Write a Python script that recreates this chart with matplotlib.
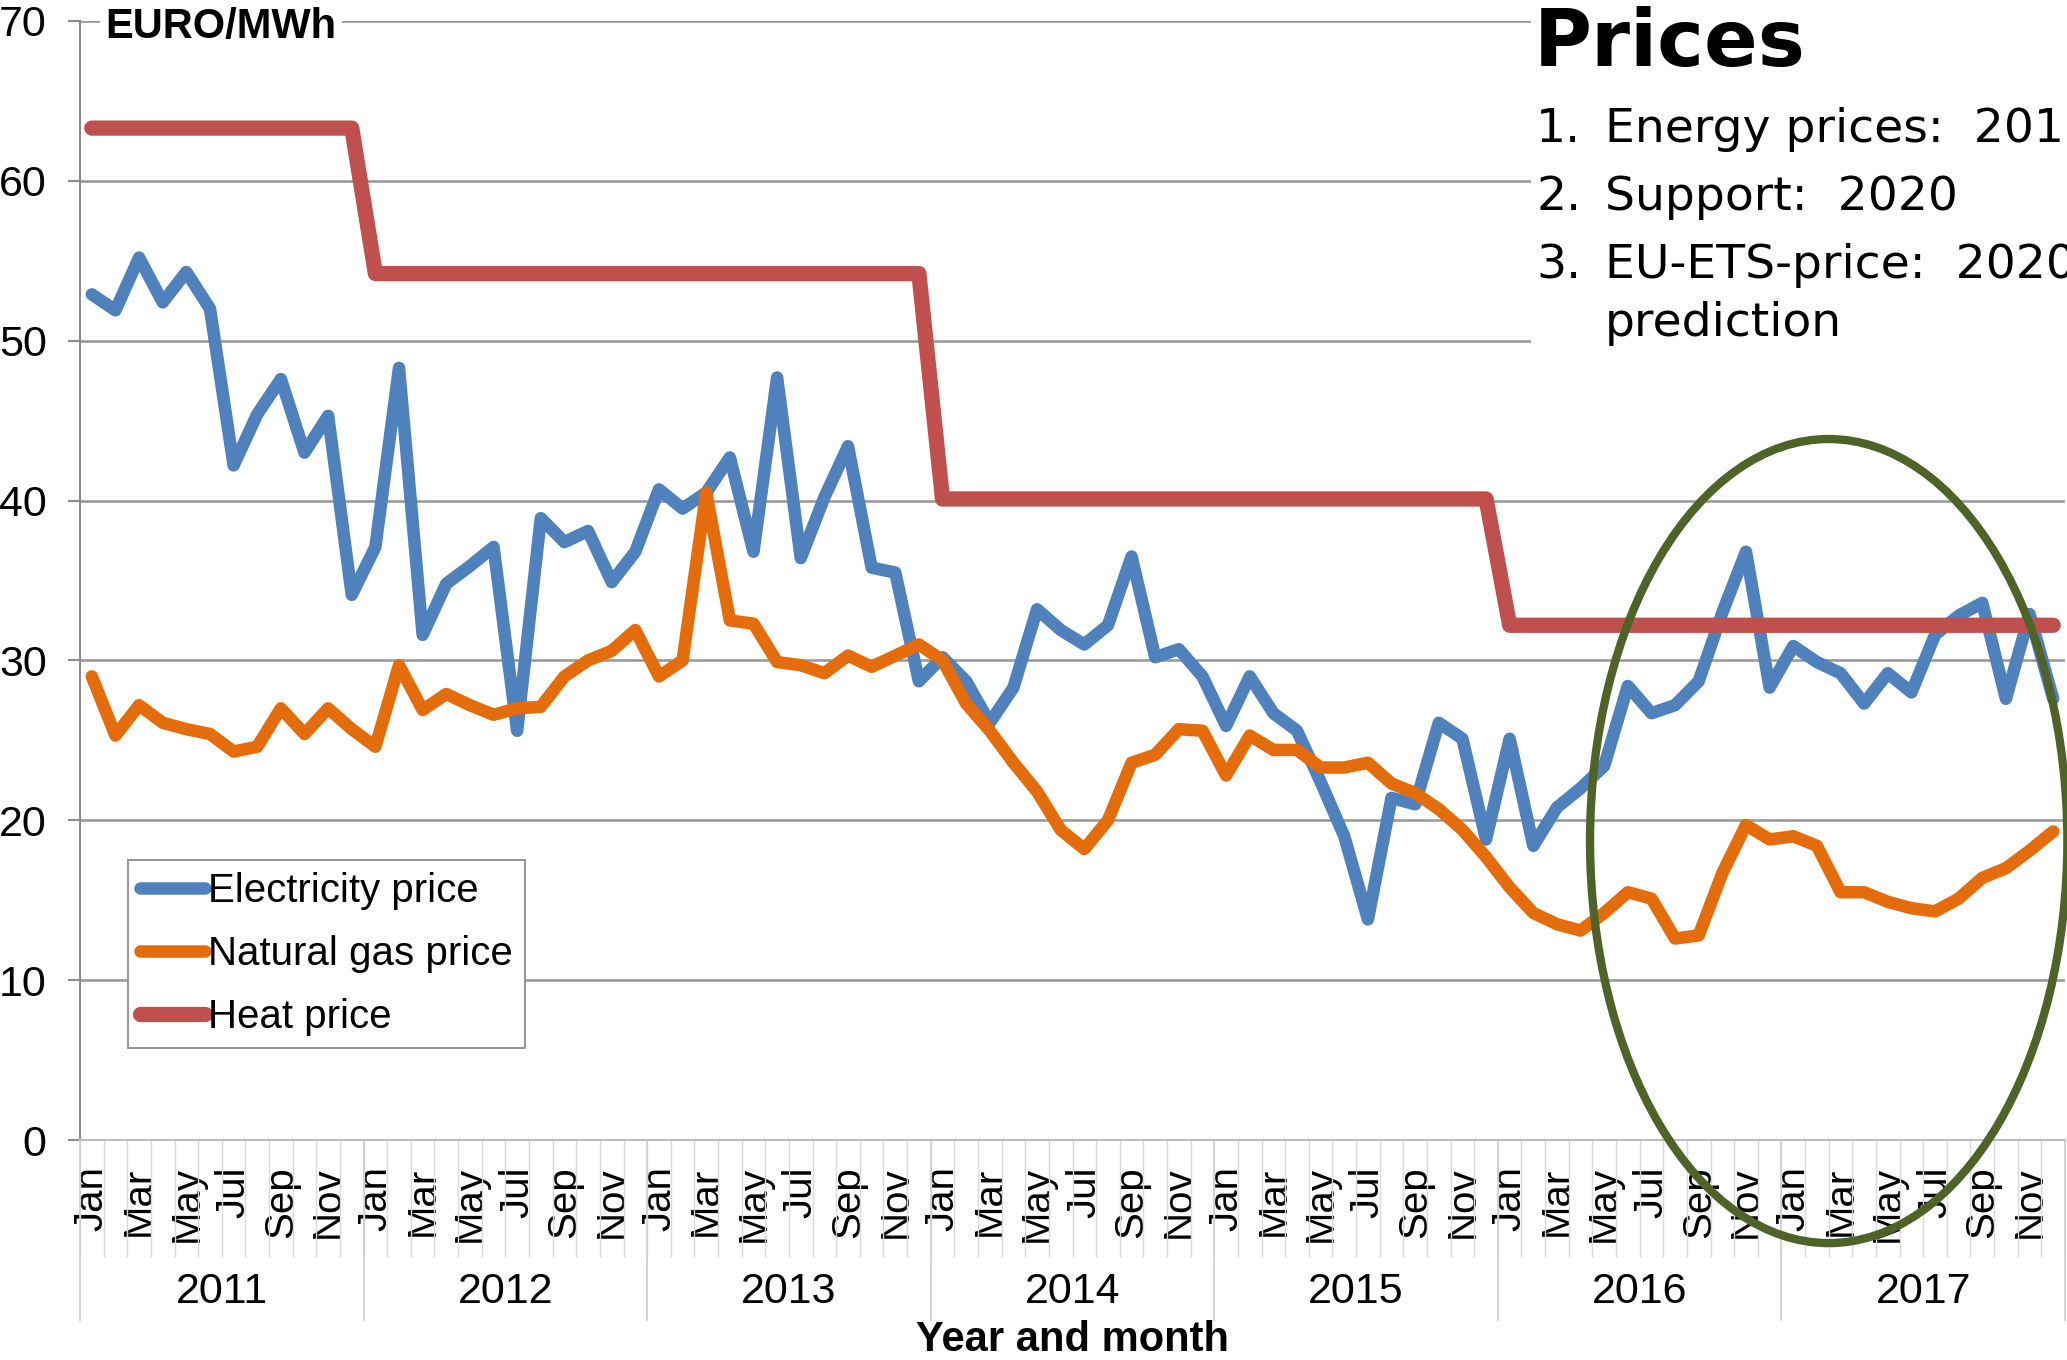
#!/usr/bin/env python3
"""
Monthly energy prices 2011-2017 (electricity, natural gas, heat) in EURO/MWh.
"""

import numpy as np
import matplotlib
matplotlib.use('Agg')
import matplotlib.pyplot as plt
from matplotlib.patches import Ellipse, Rectangle

# --- data -------------------------------------------------------------
years = [2011, 2012, 2013, 2014, 2015, 2016, 2017]
months = ['Jan', 'Feb', 'Mar', 'Apr', 'May', 'Jun',
          'Jul', 'Aug', 'Sep', 'Oct', 'Nov', 'Dec']

electricity_price = [
    52.9, 51.9, 55.2, 52.4, 54.3, 52.0, 42.2, 45.4, 47.6, 43.0, 45.3, 34.1,  # 2011
    37.1, 48.3, 31.6, 34.8, 35.9, 37.1, 25.6, 38.9, 37.4, 38.1, 34.9, 36.8,  # 2012
    40.7, 39.5, 40.5, 42.7, 36.8, 47.7, 36.4, 40.2, 43.4, 35.8, 35.5, 28.7,  # 2013
    30.2, 28.7, 26.1, 28.3, 33.2, 31.9, 31.0, 32.2, 36.5, 30.2, 30.7, 29.0,  # 2014
    25.9, 29.0, 26.7, 25.6, 22.4, 19.0, 13.8, 21.4, 21.0, 26.1, 25.1, 18.8,  # 2015
    25.1, 18.4, 20.8, 22.0, 23.4, 28.4, 26.7, 27.2, 28.7, 33.0, 36.8, 28.3,  # 2016
    30.9, 29.9, 29.2, 27.3, 29.2, 28.0, 31.6, 32.8, 33.6, 27.6, 32.9, 27.6,  # 2017
]

gas_price = [
    29.0, 25.3, 27.2, 26.1, 25.7, 25.4, 24.3, 24.6, 27.0, 25.4, 27.0, 25.7,  # 2011
    24.6, 29.7, 26.9, 27.9, 27.2, 26.6, 27.0, 27.1, 29.0, 30.0, 30.6, 31.9,  # 2012
    29.0, 30.0, 40.5, 32.5, 32.3, 29.9, 29.7, 29.2, 30.3, 29.6, 30.3, 31.0,  # 2013
    30.0, 27.3, 25.6, 23.6, 21.8, 19.4, 18.2, 20.0, 23.6, 24.1, 25.7, 25.6,  # 2014
    22.8, 25.3, 24.4, 24.4, 23.3, 23.3, 23.6, 22.3, 21.7, 20.7, 19.4, 17.7,  # 2015
    15.8, 14.2, 13.5, 13.1, 14.2, 15.5, 15.1, 12.6, 12.8, 16.7, 19.7, 18.8,  # 2016
    19.0, 18.4, 15.5, 15.5, 14.9, 14.5, 14.3, 15.1, 16.4, 17.0, 18.1, 19.3,  # 2017
]

heat_price = [
    63.3, 63.3, 63.3, 63.3, 63.3, 63.3, 63.3, 63.3, 63.3, 63.3, 63.3, 63.3,  # 2011
    54.2, 54.2, 54.2, 54.2, 54.2, 54.2, 54.2, 54.2, 54.2, 54.2, 54.2, 54.2,  # 2012
    54.2, 54.2, 54.2, 54.2, 54.2, 54.2, 54.2, 54.2, 54.2, 54.2, 54.2, 54.2,  # 2013
    40.1, 40.1, 40.1, 40.1, 40.1, 40.1, 40.1, 40.1, 40.1, 40.1, 40.1, 40.1,  # 2014
    40.1, 40.1, 40.1, 40.1, 40.1, 40.1, 40.1, 40.1, 40.1, 40.1, 40.1, 40.1,  # 2015
    32.2, 32.2, 32.2, 32.2, 32.2, 32.2, 32.2, 32.2, 32.2, 32.2, 32.2, 32.2,  # 2016
    32.2, 32.2, 32.2, 32.2, 32.2, 32.2, 32.2, 32.2, 32.2, 32.2, 32.2, 32.2,  # 2017
]

notes = ['Energy prices:  2017', 'Support:  2020', 'EU-ETS-price:  2020']

# --- figure -----------------------------------------------------------
W, H = 2067, 1360
plt.rcParams['font.family'] = ['Liberation Sans', 'DejaVu Sans']

fig = plt.figure(figsize=(W / 100, H / 100), dpi=100)
ax = fig.add_axes([80 / W, 220 / H, 1985 / W, 1119 / H])
ax_h = 1119  # axes height in pixels, for offsets below the axis

x = np.arange(len(electricity_price))
line_kw = dict(solid_joinstyle='round', solid_capstyle='round')
ax.plot(x, electricity_price, color='#4F81BD', lw=9, label='Electricity price',
        zorder=3, **line_kw)
ax.plot(x, gas_price, color='#E46C0A', lw=9, label='Natural gas price',
        zorder=4, **line_kw)
ax.plot(x, heat_price, color='#C0504D', lw=11, label='Heat price',
        zorder=5, **line_kw)

ax.set_xlim(-0.5, len(x) - 0.5)
ax.set_ylim(0, 70)
ax.set_yticks(range(0, 71, 10))
ax.yaxis.grid(True, color='#979797', lw=1.8)
ax.set_axisbelow(True)

for side in ('top', 'right'):
    ax.spines[side].set_visible(False)
ax.spines['left'].set_color('#8c8c8c')
ax.spines['left'].set_linewidth(1.5)
ax.spines['bottom'].set_color('#bdbdbd')
ax.spines['bottom'].set_linewidth(1.5)

ax.tick_params(axis='y', length=9, width=1.5, color='#8c8c8c', pad=15,
               labelsize=31)

# month labels (every second month), rotated
month_labels = [months[i % 12] for i in x]
ax.set_xticks(x[::2])
ax.set_xticklabels(month_labels[::2], rotation=90)
ax.tick_params(axis='x', length=0, pad=19, labelsize=29)

# category separators and year labels below the axis
trans = ax.get_xaxis_transform()
ax.vlines(np.arange(-0.5, len(x), 1), -117 / ax_h, 0, transform=trans,
          colors='#d9d9d9', lw=1, clip_on=False)
ax.vlines(np.arange(-0.5, len(x) + 1, 12), -181 / ax_h, 0, transform=trans,
          colors='#d0d0d0', lw=1.2, clip_on=False)
for k, yr in enumerate(years):
    ax.text(12 * k + 5.5, -152 / ax_h, str(yr), transform=trans,
            ha='center', va='center', fontsize=31)

fig.text(1072 / W, 1 - 1340 / H, 'Year and month', ha='center', va='center',
         fontsize=30, fontweight='bold')

fig.text(105 / W, 1 - 27 / H, 'EURO/MWh', ha='left', va='center',
         fontsize=30, fontweight='bold',
         bbox=dict(facecolor='white', edgecolor='none', pad=4))

leg = ax.legend(loc='lower left', bbox_to_anchor=(0.0242, 0.0822),
                borderaxespad=0, fontsize=29, handlelength=1.6,
                handletextpad=0.08, labelspacing=0.62, borderpad=0.3,
                fancybox=False, framealpha=1, edgecolor='#8c8c8c')
leg.get_frame().set_linewidth(1.3)

# highlight of the latest two years
ax.add_patch(Ellipse((73.5, 18.7), 20.2, 50.3, fill=False,
                     edgecolor='#4F6228', lw=6, clip_on=False, zorder=6))

# --- text panel at top right ------------------------------------------
fig.add_artist(Rectangle((1531 / W, 1 - 420 / H), 1, 420 / H,
                         transform=fig.transFigure, facecolor='white',
                         edgecolor='none', zorder=1))
fig.text(1534 / W, 1 - 66 / H, 'Prices', ha='left', va='baseline',
         fontsize=57, fontweight='bold', family='DejaVu Sans', zorder=4)

note_y = [129, 198, 266]
for n, (txt, yy) in enumerate(zip(notes, note_y), start=1):
    fig.text(1536 / W, 1 - yy / H, f'{n}.', ha='left', va='center',
             fontsize=34, family='DejaVu Sans', zorder=4)
    fig.text(1605 / W, 1 - yy / H, txt, ha='left', va='center',
             fontsize=34, family='DejaVu Sans', zorder=4)
fig.text(1605 / W, 1 - 324 / H, 'prediction', ha='left', va='center',
         fontsize=34, family='DejaVu Sans', zorder=4)

fig.savefig('out.png', dpi=100)
